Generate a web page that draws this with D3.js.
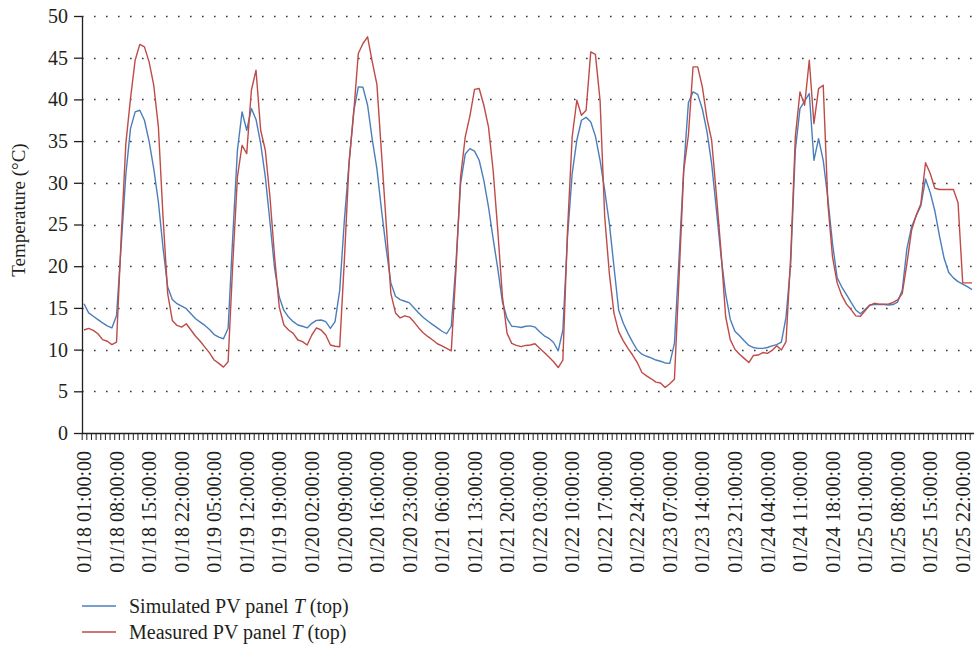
<!DOCTYPE html>
<html>
<head>
<meta charset="utf-8">
<script src="https://cdn.jsdelivr.net/npm/d3@7"></script>
<style>
  html, body { margin: 0; padding: 0; background: #ffffff; }
  svg { display: block; }
  text { font-family: "Liberation Serif", "Times New Roman", serif; fill: #231f20; }
</style>
</head>
<body>
<svg id="chart" width="974" height="648"></svg>
<script>
// ---- Data (hourly, first point = 01/18 00:00, i.e. "01/17 24:00") ----
const simulated = [
  15.5, 14.4, 14.0, 13.6, 13.2, 12.85, 12.6, 14.1, 22.5, 31.0,
  36.5, 38.5, 38.7, 37.5, 35.0, 31.7, 27.7, 22.2, 17.5, 16.0,
  15.5, 15.2, 14.9, 14.3, 13.7, 13.3, 12.9, 12.4, 11.8, 11.5,
  11.3, 12.55, 23.6, 33.9, 38.5, 36.3, 38.9, 37.6, 34.7, 30.7,
  25.3, 19.7, 16.3, 14.7, 13.9, 13.35, 12.95, 12.8, 12.6, 13.15,
  13.5, 13.55, 13.35, 12.55, 13.35, 17.1, 25.5, 32.3, 38.5, 41.5,
  41.45, 39.3, 35.2, 31.7, 26.7, 22.1, 18.0, 16.4, 16.0, 15.8,
  15.6, 15.0, 14.4, 13.85, 13.4, 13.0, 12.6, 12.2, 11.9, 12.8,
  20.3, 29.9, 33.45, 34.1, 33.8, 32.7, 30.3, 27.1, 23.3, 19.7,
  15.7, 13.75, 12.8, 12.75, 12.65, 12.8, 12.85, 12.7, 12.15, 11.65,
  11.35, 10.85, 9.85, 12.35, 23.5, 31.1, 35.1, 37.5, 37.85, 37.3,
  35.6, 32.7, 29.1, 25.1, 19.9, 14.75, 13.15, 11.95, 10.9, 9.95,
  9.45, 9.2, 9.0, 8.75, 8.6, 8.4, 8.35, 10.75, 21.1, 31.7,
  39.6, 40.9, 40.6, 38.85, 36.1, 32.3, 26.9, 21.3, 16.75, 13.65,
  12.2, 11.65, 11.05, 10.5, 10.25, 10.15, 10.15, 10.25, 10.45, 10.6,
  10.9, 13.9, 20.3, 33.9, 38.9, 39.8, 40.7, 32.7, 35.3, 32.7,
  28.1, 22.7, 18.6, 17.5, 16.6, 15.65, 14.75, 14.3, 14.8, 15.35,
  15.4, 15.4, 15.4, 15.35, 15.4, 15.7, 17.15, 22.1, 24.7, 26.05,
  27.25, 30.45, 28.85, 26.65, 23.65, 20.95, 19.25, 18.6, 18.15, 17.85,
  17.55, 17.2
];
const measured = [
  12.35, 12.55, 12.3, 11.9, 11.2, 11.0, 10.6, 10.9, 23.5, 34.7,
  40.1, 44.7, 46.6, 46.3, 44.5, 41.7, 36.7, 25.9, 16.7, 13.5,
  12.9, 12.7, 13.1, 12.35, 11.6, 11.0, 10.3, 9.6, 8.75, 8.35,
  7.9, 8.55, 20.3, 30.7, 34.5, 33.5, 41.1, 43.5, 36.3, 33.9,
  28.3, 21.1, 15.1, 12.95, 12.35, 11.95, 11.15, 10.95, 10.55, 11.75,
  12.6, 12.35, 11.75, 10.55, 10.4, 10.35, 20.7, 32.3, 38.3, 45.5,
  46.7, 47.5, 44.5, 41.8, 33.5, 25.1, 16.75, 14.4, 13.8, 14.05,
  13.9, 13.3, 12.6, 12.0, 11.55, 11.15, 10.7, 10.45, 10.15, 9.85,
  19.5, 30.7, 35.5, 38.0, 41.2, 41.3, 39.3, 36.7, 31.5, 24.3,
  16.35, 11.95, 10.75, 10.5, 10.35, 10.5, 10.55, 10.7, 10.15, 9.65,
  9.1, 8.55, 7.85, 8.75, 24.3, 35.5, 39.9, 38.1, 38.7, 45.7,
  45.4, 39.9, 25.9, 19.1, 14.35, 12.15, 11.05, 10.15, 9.35, 8.45,
  7.25, 6.85, 6.5, 6.1, 6.0, 5.45, 5.9, 6.45, 18.75, 31.5,
  35.7, 43.9, 43.9, 41.5, 37.7, 35.1, 28.7, 21.9, 14.0, 11.2,
  10.05, 9.45, 8.95, 8.45, 9.3, 9.35, 9.65, 9.55, 9.9, 10.45,
  9.95, 10.95, 21.1, 35.5, 40.9, 39.3, 44.7, 37.1, 41.3, 41.7,
  27.5, 21.1, 18.0, 16.5, 15.45, 14.8, 14.05, 14.0, 14.65, 15.3,
  15.55, 15.45, 15.45, 15.45, 15.65, 15.95, 16.75, 20.3, 24.3, 26.1,
  27.5, 32.4, 31.15, 29.35, 29.2, 29.2, 29.2, 29.2, 27.6, 18.0,
  18.0, 18.0
];
const tickLabels = [
  "01/18 01:00:00", "01/18 08:00:00", "01/18 15:00:00", "01/18 22:00:00",
  "01/19 05:00:00", "01/19 12:00:00", "01/19 19:00:00",
  "01/20 02:00:00", "01/20 09:00:00", "01/20 16:00:00", "01/20 23:00:00",
  "01/21 06:00:00", "01/21 13:00:00", "01/21 20:00:00",
  "01/22 03:00:00", "01/22 10:00:00", "01/22 17:00:00", "01/22 24:00:00",
  "01/23 07:00:00", "01/23 14:00:00", "01/23 21:00:00",
  "01/24 04:00:00", "01/24 11:00:00", "01/24 18:00:00",
  "01/25 01:00:00", "01/25 08:00:00", "01/25 15:00:00", "01/25 22:00:00"
];
const yTicks = [0, 5, 10, 15, 20, 25, 30, 35, 40, 45, 50];
const seriesNames = ["Simulated PV panel ", "Measured PV panel "];
const seriesColors = ["#4a7ebb", "#be4b48"];

// Categories: hourly timestamps, midnight written as "24:00" of the previous day
const pad = n => String(n).padStart(2, "0");
const categories = simulated.map((_, j) => {
  let day = 18 + Math.floor(j / 24), hr = j % 24;
  if (hr === 0) { day -= 1; hr = 24; }
  return `01/${pad(day)} ${pad(hr)}:00:00`;
});

// ---- Layout ----
const svg = d3.select("#chart");
const x = d3.scaleLinear().domain([0, categories.length - 1]).range([84, 972]);
const y = d3.scaleLinear().domain([0, 50]).range([433, 16]);
const axisLeftX = 82;

svg.append("rect").attr("width", 974).attr("height", 648).attr("fill", "#fff");

// gridlines (dotted)
svg.append("g").selectAll("line")
  .data(yTicks.filter(v => v > 0))
  .join("line")
  .attr("x1", axisLeftX).attr("x2", 974)
  .attr("y1", d => Math.round(y(d)) + 0.5).attr("y2", d => Math.round(y(d)) + 0.5)
  .attr("stroke", "#3a3a3a").attr("stroke-width", 1.6)
  .attr("stroke-dasharray", "1.6 10.4");

// lines
const line = d3.line().x((d, i) => x(i)).y(d => y(d));
[simulated, measured].forEach((s, k) => {
  svg.append("path").datum(s)
    .attr("fill", "none").attr("stroke", seriesColors[k])
    .attr("stroke-width", 1.4).attr("stroke-linejoin", "round")
    .attr("d", line);
});

// y axis
const yAxis = svg.append("g").attr("transform", `translate(${axisLeftX},0)`)
  .call(d3.axisLeft(y).tickValues(yTicks).tickSize(8).tickSizeOuter(0).tickPadding(6));
yAxis.select(".domain").attr("stroke", "#231f20").attr("stroke-width", 1.3);
yAxis.selectAll(".tick line").attr("stroke", "#231f20").attr("stroke-width", 1.3);
yAxis.selectAll("text").attr("font-size", 20).attr("font-family", "Liberation Serif").attr("fill", "#231f20");

// x axis with hourly minor ticks at category boundaries
const boundaries = d3.range(categories.length + 1).map(j => j - 0.5);
const xAxis = svg.append("g").attr("transform", `translate(0,433)`)
  .call(d3.axisBottom(x).tickValues(boundaries).tickSize(7).tickSizeOuter(0).tickFormat(""));
xAxis.select(".domain").attr("stroke", "#231f20").attr("stroke-width", 1.3)
  .attr("d", `M${axisLeftX},0.5H974`);
xAxis.selectAll(".tick line").attr("stroke", "#231f20").attr("stroke-width", 1);

// x labels
const labelIdx = tickLabels.map(t => categories.indexOf(t));
const xLab = svg.append("g").attr("transform", `translate(0,433)`)
  .call(d3.axisBottom(x).tickValues(labelIdx).tickSize(0)
    .tickFormat(i => categories[i]));
xLab.select(".domain").remove();
xLab.selectAll("text")
  .attr("font-size", 20).attr("font-family", "Liberation Serif").attr("fill", "#231f20")
  .attr("text-anchor", "end")
  .attr("transform", "rotate(-90)")
  .attr("x", -18).attr("y", 0).attr("dy", "0.1em");

// y title
svg.append("text")
  .attr("transform", "translate(25,210) rotate(-90)")
  .attr("text-anchor", "middle")
  .attr("font-size", 19)
  .text("Temperature (°C)");

// legend
const leg = svg.append("g");
seriesNames.forEach((name, k) => {
  const ly = 606 + k * 26;
  leg.append("line").attr("x1", 82).attr("x2", 116).attr("y1", ly).attr("y2", ly)
    .attr("stroke", seriesColors[k]).attr("stroke-width", 1.4);
  const t = leg.append("text").attr("x", 129).attr("y", ly).attr("dy", "0.33em").attr("font-size", 20);
  t.append("tspan").text(name);
  t.append("tspan").attr("font-style", "italic").text("T");
  t.append("tspan").text(" (top)");
});
</script>
</body>
</html>
